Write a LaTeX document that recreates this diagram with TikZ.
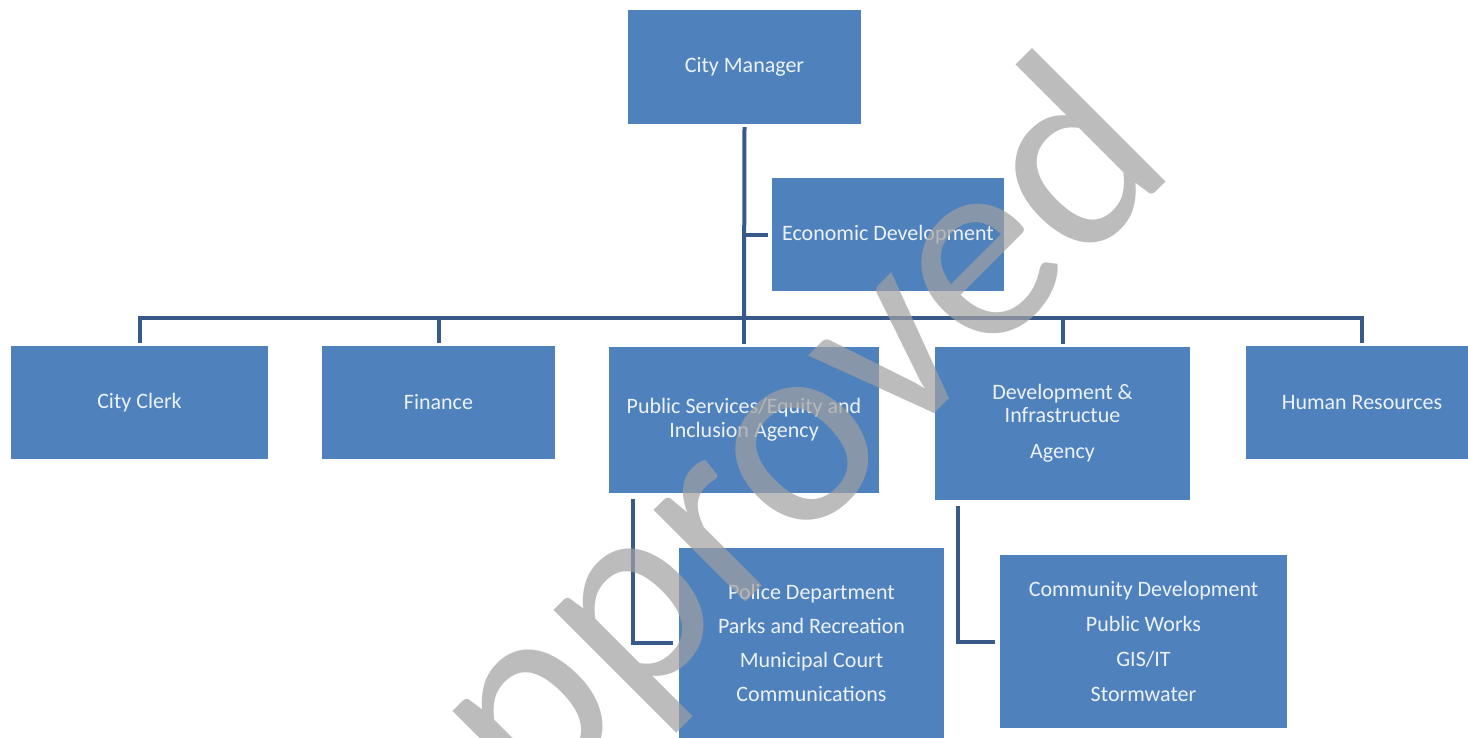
\documentclass[tikz,border=0pt]{standalone}
\usepackage{fontspec}
\setmainfont{Carlito}
\definecolor{boxblue}{RGB}{79,129,189}
\definecolor{linkblue}{RGB}{56,90,138}
\definecolor{boxtext}{RGB}{236,242,250}
\definecolor{wmgray}{RGB}{160,160,160}
\tikzset{
  org/.style={fill=boxblue, draw=none, inner sep=0pt, align=center, text=boxtext,
    font=\fontsize{22}{24}\selectfont},
  link/.style={draw=linkblue, line width=4pt},
  watermark/.style={text=wmgray, text opacity=0.7, inner sep=0pt,
    font=\fontsize{272}{272}\selectfont}
}
\begin{document}
\begin{tikzpicture}[x=1pt,y=-1pt]
\useasboundingbox (0,0) rectangle (1468,737);
\clip (0,0) rectangle (1468,737);
\fill[white] (0,0) rectangle (1468,737);

\node[org, minimum width=233pt, minimum height=114pt] (cm) at (744.5,67) {City Manager};
\node[org, minimum width=232pt, minimum height=113pt] (ed) at (888,234.5) {Economic Development};
\node[org, minimum width=257pt, minimum height=113pt] (clerk) at (139.5,402.5) {City Clerk};
\node[org, minimum width=233pt, minimum height=113pt] (fin) at (438.5,402.5) {Finance};
\node[org, minimum width=270pt, minimum height=146pt] (ps) at (744,420) {Public Services/Equity and\\Inclusion Agency};
\node[org, minimum width=255pt, minimum height=153pt, font=\fontsize{22}{23}\selectfont] (dev) at (1062.5,423.5) {Development \&\\Infrastructue\\[13pt]Agency};
\node[org, minimum width=232pt, minimum height=113pt] (hr) at (1362,402.5) {Human Resources};
\node[org, minimum width=265pt, minimum height=190pt, font=\fontsize{22}{34}\selectfont] (pol) at (811.5,643) {Police Department\\Parks and Recreation\\Municipal Court\\Communications};
\node[org, minimum width=287pt, minimum height=173pt, font=\fontsize{22}{35}\selectfont] (com) at (1143.5,641.5) {Community Development\\Public Works\\GIS/IT\\Stormwater};

\coordinate (bus) at (744,318);
\draw[link] ([yshift=-3pt]cm.south) -- (bus);
\draw[link] (cm.south |- ed.west) -- ([xshift=-4pt]ed.west);
\draw[link] ([yshift=3pt]clerk.north) |- (bus) -| ([yshift=3pt]hr.north);
\foreach \n in {fin,ps,dev} \draw[link] (\n.north |- bus) -- ([yshift=3pt]\n.north);
\draw[link] ([xshift=24pt,yshift=-6pt]ps.south west) |- ([xshift=-6pt]pol.west);
\draw[link] ([xshift=23pt,yshift=-6pt]dev.south west) |- ([xshift=-5pt]com.west);

\node[watermark, anchor=base west, rotate=45] (wm) at (420,928) {Approved};
\end{tikzpicture}
\end{document}
